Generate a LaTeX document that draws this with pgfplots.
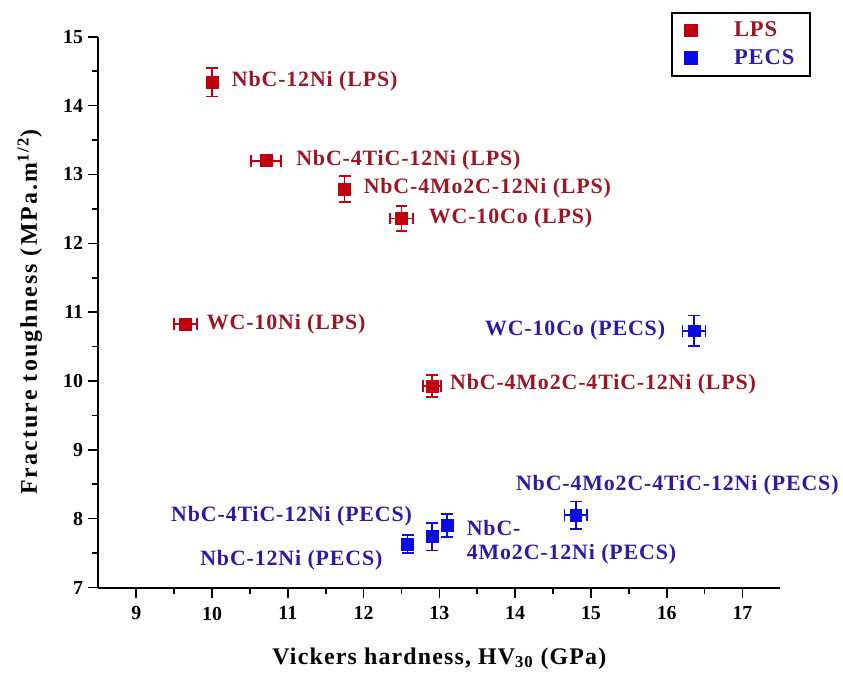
\documentclass[border=0pt]{standalone}
\usepackage{pgfplots}
\pgfplotsset{compat=1.18}
\usepackage{fontspec}
\setmainfont{Liberation Serif}
\newfontfamily\wideA[LetterSpace=4]{Liberation Serif}
\newfontfamily\wideB[LetterSpace=9]{Liberation Serif}
\newfontfamily\wideX[LetterSpace=5]{Liberation Serif}
\definecolor{lpsmark}{HTML}{C00010}
\definecolor{lpstext}{HTML}{9E1420}
\definecolor{pecsmark}{HTML}{0A0AE6}
\definecolor{pecstext}{HTML}{2A1AA8}
\begin{document}
\begin{tikzpicture}
\begin{axis}[
  scale only axis,
  width=514.5pt, height=415.5pt,
  xmin=8.5, xmax=17.5, ymin=7, ymax=15,
  axis x line=bottom, axis y line=left,
  axis line style={-, line width=1.5pt},
  tick align=outside,
  xtick={9,...,17}, ytick={7,...,15},
  minor x tick num=1, minor y tick num=1,
  major tick length=8pt, minor tick length=5pt,
  every tick/.style={line width=1.2pt, black},
  tick label style={font=\bfseries\fontsize{15}{15}\selectfont},
  /pgf/number format/assume math mode=true,
  xticklabel style={yshift=-3pt},
  xlabel={\wideX\bfseries\fontsize{18}{18}\selectfont Vickers hardness, HV\textsubscript{30} (GPa)},
  ylabel={\wideB\bfseries\fontsize{18}{18}\selectfont Fracture toughness (MPa.m\textsuperscript{1/2})},
  xlabel style={yshift=-14pt},
  ylabel style={yshift=9pt},
  clip=false,
  legend style={at={(rel axis cs:1.045,1.045)}, anchor=north east, draw=black, line width=1.2pt,
    font=\wideA\bfseries\fontsize{17}{17}\selectfont, row sep=4pt, inner xsep=10pt, inner ysep=5pt},
  legend cell align=left,
  legend image code/.code={\draw[#1, draw=none] plot coordinates {(0.3cm,0cm)};},
]
\path (rel axis cs:-0.1443,-0.157) rectangle (rel axis cs:1.0845,1.0668);

\addplot[only marks, mark=square*, mark size=4.5pt, color=lpsmark,
  error bars/.cd, x dir=both, y dir=both, x explicit, y explicit,
  error bar style={line width=1.2pt}, error mark options={rotate=90, mark size=4.5pt, line width=1.2pt}]
  table[x=x, y=y, x error=ex, y error=ey] {
x y ex ey
10.00 14.34 0.05 0.21
10.71 13.20 0.20 0.05
11.75 12.79 0.05 0.19
12.50 12.36 0.15 0.18
9.65 10.83 0.15 0.07
12.90 9.93 0.12 0.16
};
\addlegendentry{\hspace{26pt}\textcolor{lpstext}{LPS}}

\addplot[only marks, mark=square*, mark size=4.5pt, color=pecsmark,
  error bars/.cd, x dir=both, y dir=both, x explicit, y explicit,
  error bar style={line width=1.2pt}, error mark options={rotate=90, mark size=4.5pt, line width=1.2pt}]
  table[x=x, y=y, x error=ex, y error=ey] {
x y ex ey
16.36 10.73 0.15 0.22
14.80 8.05 0.15 0.20
13.10 7.90 0.05 0.17
12.90 7.74 0.05 0.20
12.58 7.63 0.05 0.13
};
\addlegendentry{\hspace{26pt}\textcolor{pecstext}{PECS}}

\begin{scope}[every node/.style={font=\wideA\bfseries\fontsize{16.5}{18}\selectfont}]
\node[anchor=west, text=lpstext] at (axis cs:10.20,14.35) {NbC-12Ni (LPS)};
\node[anchor=west, text=lpstext] at (axis cs:11.05,13.21) {NbC-4TiC-12Ni (LPS)};
\node[anchor=west, text=lpstext] at (axis cs:11.94,12.80) {NbC-4Mo2C-12Ni (LPS)};
\node[anchor=west, text=lpstext] at (axis cs:12.80,12.37) {WC-10Co (LPS)};
\node[anchor=west, text=lpstext] at (axis cs:9.87,10.83) {WC-10Ni (LPS)};
\node[anchor=west, text=lpstext] at (axis cs:13.08,9.95) {NbC-4Mo2C-4TiC-12Ni (LPS)};
\node[anchor=east, text=pecstext] at (axis cs:16.04,10.74) {WC-10Co (PECS)};
\node[anchor=west, text=pecstext] at (axis cs:13.95,8.49) {NbC-4Mo2C-4TiC-12Ni (PECS)};
\node[anchor=east, text=pecstext] at (axis cs:12.70,8.03) {NbC-4TiC-12Ni (PECS)};
\node[anchor=east, text=pecstext] at (axis cs:12.31,7.40) {NbC-12Ni (PECS)};
\node[anchor=west, text=pecstext, align=left] at (axis cs:13.30,7.66) {NbC-\\4Mo2C-12Ni (PECS)};
\end{scope}
\end{axis}
\end{tikzpicture}
\end{document}
